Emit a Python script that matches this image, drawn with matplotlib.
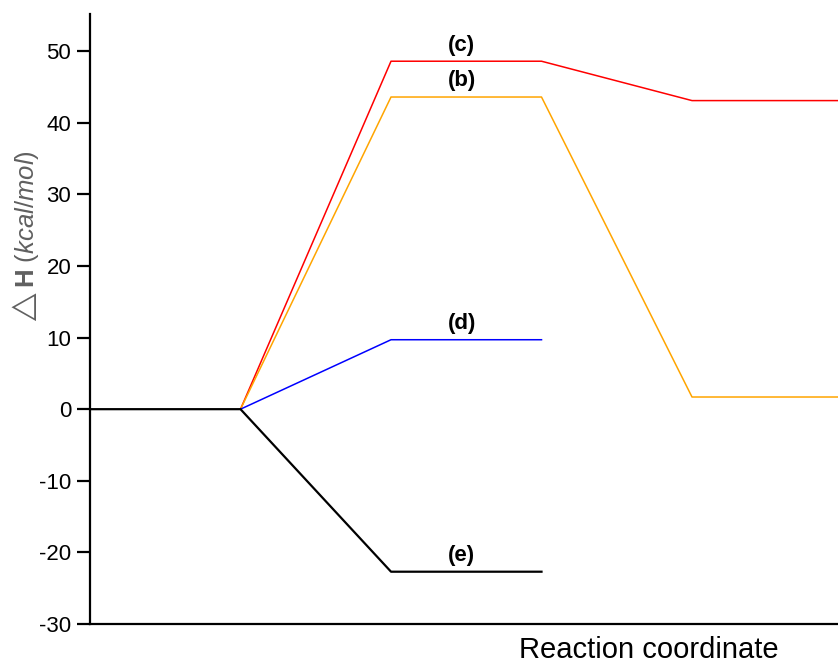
import numpy as np
import matplotlib
matplotlib.use("Agg")
import matplotlib.pyplot as plt

plt.rcParams['font.family'] = ['Liberation Sans', 'DejaVu Sans']
plt.rcParams['mathtext.fontset'] = 'custom'
plt.rcParams['mathtext.rm'] = 'Liberation Sans'
plt.rcParams['mathtext.it'] = 'Liberation Sans:italic'
plt.rcParams['mathtext.bf'] = 'Liberation Sans:bold'
plt.rcParams['axes.unicode_minus'] = False

# reaction coordinate steps
steps = [0, 1, 2, 3, 4, 5]

# enthalpy levels (kcal/mol)
path_c = [0, 48.6, 48.6, 43.1, 43.1]
path_b = [0, 43.6, 43.6, 1.7, 1.7]
path_d = [0, 9.7, 9.7]
path_e = [0, 0, -22.7, -22.7]

labels = ['(c)', '(b)', '(d)', '(e)']
label_y = [48.6, 43.6, 9.7, -22.7]

fig = plt.figure(figsize=(8.38, 6.65), dpi=100)
ax = fig.add_axes([0.1074, 0.0617, 0.8926, 0.9173])

ax.plot(steps[1:], path_c, color='red', lw=1.1)
ax.plot(steps[1:], path_b, color='orange', lw=1.1)
ax.plot(steps[1:4], path_d, color='blue', lw=1.1)
ax.plot(steps[:4], path_e, color='black', lw=1.6)

for lab, yv in zip(labels, label_y):
    ax.annotate(lab, (2.47, yv), xytext=(0, 4), textcoords='offset points',
                ha='center', va='bottom', fontsize=16, fontweight='bold')

ax.set_xlim(0, 4.97)
ax.set_ylim(-30, 55.2)
ax.set_yticks(np.arange(-30, 51, 10))
ax.set_xticks([])

for s in ['top', 'right']:
    ax.spines[s].set_visible(False)
for s in ['left', 'bottom']:
    ax.spines[s].set_linewidth(1.6)
ax.tick_params(axis='y', direction='out', length=9.5, width=1.6, labelsize=16, pad=4)

fig.text(0.03, 1 - 238 / 665, r'$\triangle\mathbf{H}$ $\mathit{(kcal/mol)}$',
         rotation=90, ha='center', va='center', fontsize=18.5, color='#606060')
fig.text(649 / 838, 1 - 650 / 665, 'Reaction coordinate',
         ha='center', va='center', fontsize=21)

fig.savefig('out.png', dpi=100)
